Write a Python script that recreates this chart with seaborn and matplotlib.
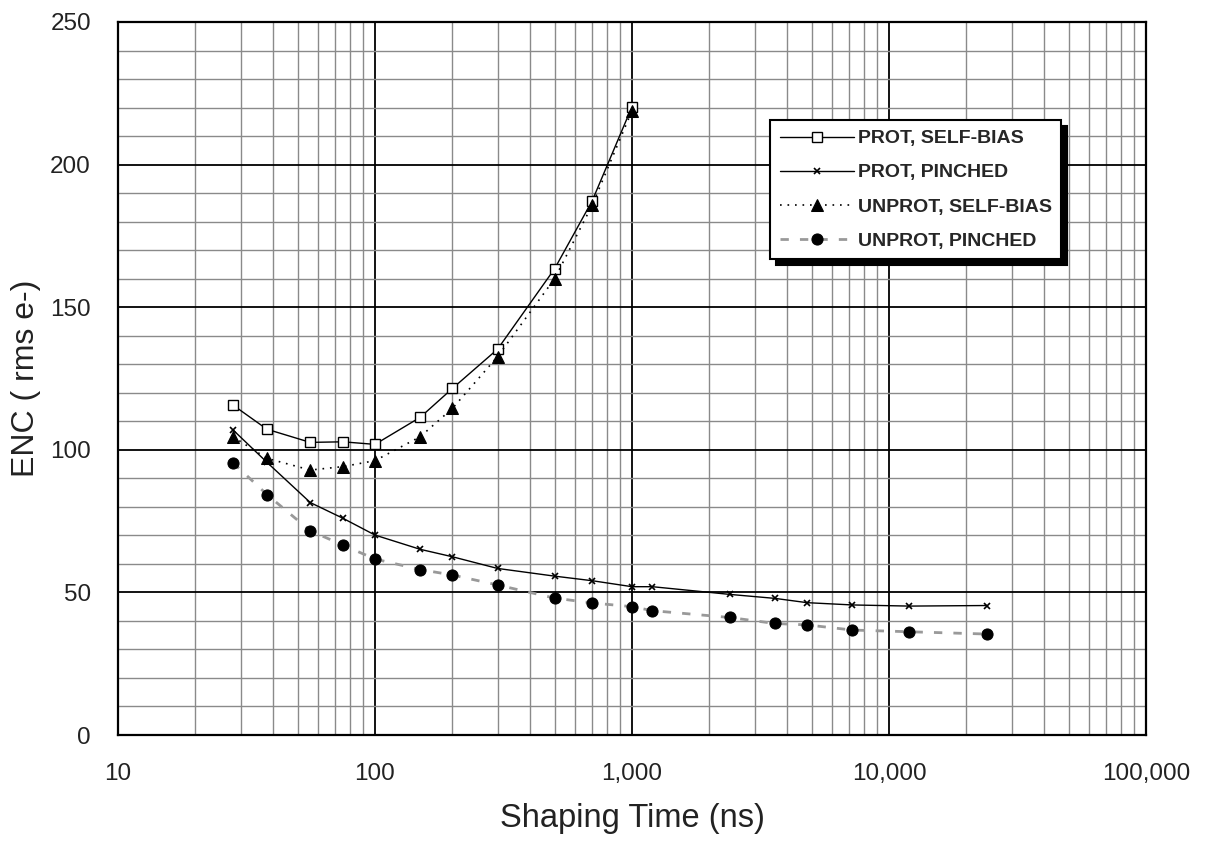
import matplotlib
matplotlib.use("Agg")
import matplotlib.pyplot as plt
import seaborn as sns
import numpy as np
from matplotlib.ticker import FixedLocator, FuncFormatter, MultipleLocator, LogLocator, NullFormatter

# ---- data ----
x_self = [28, 38, 56, 75, 100, 150, 200, 300, 500, 700, 1000]
prot_self = [115.7, 107.2, 102.6, 102.8, 101.9, 111.4, 121.5, 135.3, 163.5, 187.3, 220.3]
unprot_self = [104.6, 97.0, 92.9, 94.1, 96.2, 104.6, 114.5, 132.7, 160.0, 185.8, 218.9]

x_pinch = [28, 38, 56, 75, 100, 150, 200, 300, 500, 700, 1000, 1200, 2400, 3600, 4800, 7200, 12000, 24000]
prot_pinch = [107.0, 95.6, 81.5, 76.0, 70.1, 65.1, 62.5, 58.4, 55.7, 54.1, 52.0, 52.0, 49.3, 47.9, 46.4, 45.6, 45.2, 45.4]
unprot_pinch = [95.5, 84.3, 71.6, 66.6, 61.7, 58.0, 56.1, 52.6, 48.0, 46.3, 45.0, 43.6, 41.2, 39.1, 38.6, 36.8, 36.2, 35.4]

labels = ["PROT, SELF-BIAS", "PROT, PINCHED", "UNPROT, SELF-BIAS", "UNPROT, PINCHED"]
x_ticks = [10, 100, 1000, 10000, 100000]
x_tick_labels = ["10", "100", "1,000", "10,000", "100,000"]
y_ticks = [0, 50, 100, 150, 200, 250]

sns.set_style("white")
plt.rcParams['font.family'] = ['Liberation Sans', 'DejaVu Sans']

fig = plt.figure(figsize=(12.06, 8.42), dpi=100)
ax = fig.add_axes([118/1206, 1-735/842, (1146-118)/1206, (735-22)/842])

ax.set_xscale("log")
ax.set_xlim(10, 100000)
ax.set_ylim(0, 250)

# grid
ax.xaxis.set_major_locator(FixedLocator(x_ticks))
ax.xaxis.set_minor_locator(LogLocator(base=10, subs=np.arange(2, 10)))
ax.xaxis.set_minor_formatter(NullFormatter())
ax.xaxis.set_major_formatter(FuncFormatter(
    lambda v, p: x_tick_labels[x_ticks.index(int(round(v)))] if int(round(v)) in x_ticks else ""))
ax.yaxis.set_major_locator(FixedLocator(y_ticks))
ax.yaxis.set_minor_locator(MultipleLocator(10))
ax.grid(which="minor", color="#8a8a8a", linewidth=1.0)
ax.grid(which="major", color="black", linewidth=1.3)
ax.set_axisbelow(True)

for s in ax.spines.values():
    s.set_color("black")
    s.set_linewidth(1.6)

sns.lineplot(x=x_self, y=prot_self, ax=ax, color="black", linewidth=1.0,
             marker="s", markersize=7.5, markerfacecolor="white", markeredgecolor="black",
             markeredgewidth=1.0, label=labels[0])
sns.lineplot(x=x_pinch, y=prot_pinch, ax=ax, color="black", linewidth=1.0,
             marker="x", markersize=5, markeredgecolor="black", markeredgewidth=1.2,
             label=labels[1])
sns.lineplot(x=x_self, y=unprot_self, ax=ax, color="black", linewidth=1.2,
             linestyle=(0, (1, 3.5)), marker="^", markersize=8, markerfacecolor="black",
             markeredgecolor="black", label=labels[2])
sns.lineplot(x=x_pinch, y=unprot_pinch, ax=ax, color="#999999", linewidth=2.0,
             linestyle=(0, (3, 4)), marker="o", markersize=8, markerfacecolor="black",
             markeredgecolor="black", label=labels[3])

ax.tick_params(axis="both", which="major", labelsize=17.5, length=7.5, width=1.6,
               color="black", direction="out", labelcolor="#222222")
ax.tick_params(axis="y", which="major", pad=12)
ax.tick_params(axis="x", which="major", pad=13)
ax.tick_params(axis="both", which="minor", length=0)

ax.set_xlabel("Shaping Time (ns)", fontsize=23.5, color="#222222")
ax.xaxis.set_label_coords(0.5, (735-803)/713)
ax.set_ylabel("ENC ( rms e-)", fontsize=23, color="#222222")
ax.yaxis.label.set_verticalalignment("center")
ax.yaxis.set_label_coords((26-118)/1028, 0.5)

leg = ax.legend(loc="upper left", bbox_to_anchor=((770-118)/1028, (735-120)/713),
                frameon=True, fancybox=False, edgecolor="black", framealpha=1,
                shadow={"color": "black", "alpha": 1.0, "ox": 4, "oy": -4},
                prop={"weight": "bold", "size": 14}, handlelength=3.8,
                borderpad=0.5, labelspacing=0.85, handletextpad=0.2, borderaxespad=0)
leg.get_frame().set_linewidth(1.5)

fig.savefig("out.png", dpi=100)
